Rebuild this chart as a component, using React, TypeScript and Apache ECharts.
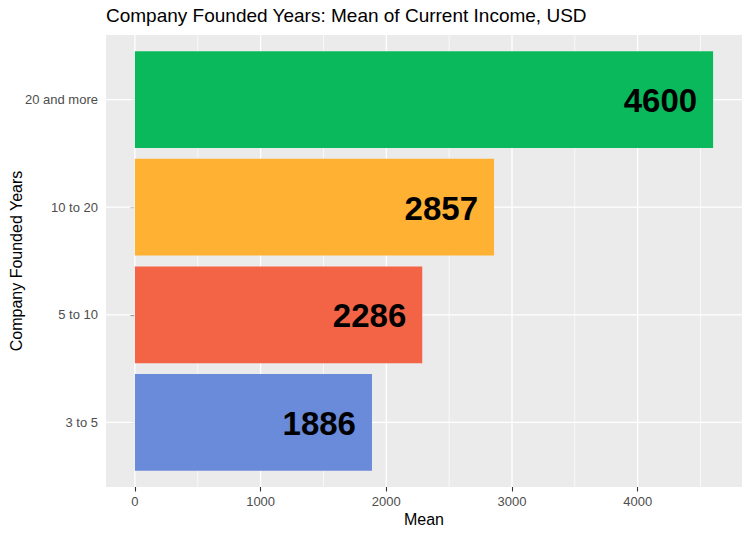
import React, { useEffect, useRef } from "react";
import * as echarts from "echarts";

const FONT = '"Liberation Sans", Arial, Helvetica, sans-serif';

const titleText = "Company Founded Years: Mean of Current Income, USD";
const categories = ["3 to 5", "5 to 10", "10 to 20", "20 and more"];
const means = [1886, 2286, 2857, 4600];
const barColors = ["#6386D8", "#F25E3F", "#FFAE2B", "#00B654"];
const xTicks = [0, 1000, 2000, 3000, 4000];
const xMinor = [500, 1500, 2500, 3500, 4500];
const yPositions = [1, 2, 3, 4];

export default function App() {
  const ref = useRef<HTMLDivElement>(null);

  useEffect(() => {
    document.body.style.margin = "0";
    if (!ref.current) return;
    const chart = echarts.init(ref.current, undefined, { renderer: "svg" });

    const vLine = (width: number) => (params: any, api: any) => {
      const cs = params.coordSys;
      const x = api.coord([api.value(0), 1])[0];
      return {
        type: "line",
        shape: { x1: x, y1: cs.y, x2: x, y2: cs.y + cs.height },
        style: { stroke: "#FFFFFF", lineWidth: width },
      };
    };
    const hLine = (width: number) => (params: any, api: any) => {
      const cs = params.coordSys;
      const y = api.coord([0, api.value(1)])[1];
      return {
        type: "line",
        shape: { x1: cs.x, y1: y, x2: cs.x + cs.width, y2: y },
        style: { stroke: "#FFFFFF", lineWidth: width },
      };
    };

    const option: any = {
      animation: false,
      textStyle: { fontFamily: FONT },
      title: {
        text: titleText,
        left: 106,
        top: 6,
        padding: 0,
        textStyle: { fontSize: 19, fontWeight: "normal", color: "#000000", fontFamily: FONT },
      },
      grid: {
        left: 106,
        right: 8,
        top: 35,
        bottom: 49,
        show: true,
        backgroundColor: "#EBEBEB",
        borderWidth: 0,
        containLabel: false,
        outerBoundsMode: "none",
      },
      xAxis: {
        type: "value",
        min: -230,
        max: 4830,
        name: "Mean",
        nameLocation: "middle",
        nameGap: 24,
        nameMoveOverlap: false,
        nameTextStyle: { fontSize: 16, color: "#000000", fontFamily: FONT },
        axisLine: { show: false },
        splitLine: { show: false },
        axisTick: { show: true, customValues: xTicks, length: 4.5, lineStyle: { color: "#333333", width: 1.1 } },
        axisLabel: {
          customValues: xTicks,
          color: "#4D4D4D",
          fontSize: 13,
          margin: 8,
          fontFamily: FONT,
          formatter: (v: number) => String(v),
        },
      },
      yAxis: {
        type: "value",
        min: 0.4,
        max: 4.6,
        name: "Company Founded Years",
        nameLocation: "middle",
        nameGap: 82,
        nameMoveOverlap: false,
        nameTextStyle: { fontSize: 16, color: "#000000", fontFamily: FONT },
        axisLine: { show: false },
        splitLine: { show: false },
        axisTick: { show: true, customValues: yPositions, length: 4.5, lineStyle: { color: "#333333", width: 1.1 } },
        axisLabel: {
          customValues: yPositions,
          color: "#4D4D4D",
          fontSize: 13,
          margin: 8,
          fontFamily: FONT,
          formatter: (v: number) => categories[Math.round(v) - 1] ?? "",
        },
      },
      series: [
        {
          type: "custom",
          z: 1,
          silent: true,
          renderItem: vLine(0.7),
          data: xMinor.map((v) => [v, 1]),
        },
        {
          type: "custom",
          z: 1,
          silent: true,
          renderItem: vLine(1.3),
          data: xTicks.map((v) => [v, 1]),
        },
        {
          type: "custom",
          z: 1,
          silent: true,
          renderItem: hLine(1.3),
          data: yPositions.map((v) => [0, v]),
        },
        {
          type: "custom",
          z: 3,
          renderItem: (params: any, api: any) => {
            const v = api.value(0);
            const yi = api.value(1);
            const p0 = api.coord([0, yi + 0.45]);
            const p1 = api.coord([v, yi - 0.45]);
            const color = barColors[params.dataIndex];
            return {
              type: "group",
              children: [
                {
                  type: "rect",
                  shape: { x: p0[0], y: p0[1], width: p1[0] - p0[0], height: p1[1] - p0[1] },
                  style: { fill: color, opacity: 0.96 },
                },
                {
                  type: "text",
                  x: p1[0] - 16,
                  y: (p0[1] + p1[1]) / 2 + 1,
                  style: {
                    text: String(v),
                    fill: "#000000",
                    fontSize: 33,
                    fontWeight: "bold",
                    fontFamily: FONT,
                    align: "right",
                    verticalAlign: "middle",
                  },
                },
              ],
            };
          },
          data: means.map((m, i) => [m, i + 1]),
        },
      ],
    };

    chart.setOption(option);
    return () => chart.dispose();
  }, []);

  return <div ref={ref} style={{ width: 750, height: 536 }} />;
}
